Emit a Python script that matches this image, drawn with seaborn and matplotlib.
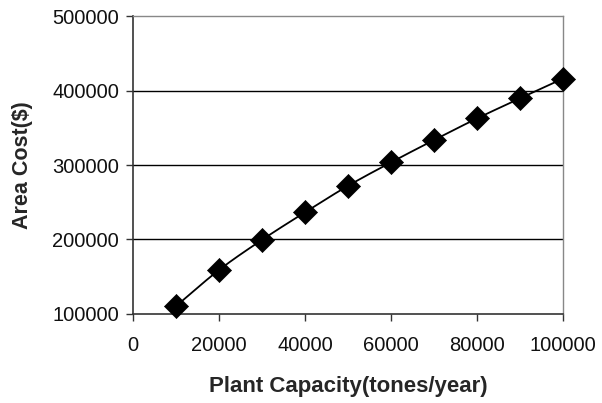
import numpy as np
import pandas as pd
import matplotlib
matplotlib.use("Agg")
import matplotlib.pyplot as plt
import seaborn as sns

# Plant capacity (tones/year) and corresponding area cost ($)
capacity = [10000, 20000, 30000, 40000, 50000, 60000, 70000, 80000, 90000, 100000]
area_cost = [110500, 159000, 199500, 236500, 272000, 303500, 333500, 362500, 389500, 416000]

x_ticks = [0, 20000, 40000, 60000, 80000, 100000]
y_ticks = [100000, 200000, 300000, 400000, 500000]

df = pd.DataFrame({"capacity": capacity, "cost": area_cost})

sns.set_theme(style="white")
plt.rcParams["font.family"] = ["Liberation Sans", "DejaVu Sans"]


def smooth_curve(xs, ys, steps=20):
    """Catmull-Rom spline through the data points (smoothed line)."""
    xs = np.asarray(xs, float)
    ys = np.asarray(ys, float)
    px = np.concatenate([[2 * xs[0] - xs[1]], xs, [2 * xs[-1] - xs[-2]]])
    py = np.concatenate([[2 * ys[0] - ys[1]], ys, [2 * ys[-1] - ys[-2]]])
    out_x, out_y = [], []
    t = np.linspace(0, 1, steps, endpoint=False)
    for i in range(1, len(px) - 2):
        for p, o in ((px, out_x), (py, out_y)):
            p0, p1, p2, p3 = p[i - 1], p[i], p[i + 1], p[i + 2]
            o.extend(0.5 * ((2 * p1) + (-p0 + p2) * t
                            + (2 * p0 - 5 * p1 + 4 * p2 - p3) * t ** 2
                            + (-p0 + 3 * p1 - 3 * p2 + p3) * t ** 3))
    out_x.append(xs[-1])
    out_y.append(ys[-1])
    return np.array(out_x), np.array(out_y)


fig = plt.figure(figsize=(6.02, 4.03), dpi=100)
ax = fig.add_axes([0.221, 0.221, 0.714, 0.739])

sx, sy = smooth_curve(df["capacity"], df["cost"])
sns.lineplot(x=sx, y=sy, ax=ax, color="black", linewidth=1.3, sort=False, zorder=3)
sns.scatterplot(data=df, x="capacity", y="cost", ax=ax, marker="D", s=150,
                color="black", edgecolor="black", linewidth=0.5, zorder=4)
for coll in ax.collections:
    coll.set_clip_on(False)

ax.set_xlim(0, 100000)
ax.set_ylim(100000, 500000)
ax.set_xticks(x_ticks)
ax.set_yticks(y_ticks)
ax.set_xticklabels([str(v) for v in x_ticks], fontsize=14.5)
ax.set_yticklabels([str(v) for v in y_ticks], fontsize=14.5)

for v in y_ticks[1:-1]:
    ax.axhline(v, color="black", linewidth=1.0, zorder=1)

ax.tick_params(axis="both", which="both", direction="out", length=5, width=1,
               color="#333333", bottom=True, left=True, labelcolor="#111111")
ax.tick_params(axis="x", pad=11)
ax.tick_params(axis="y", pad=5)

for side in ("left", "bottom"):
    ax.spines[side].set_color("#333333")
    ax.spines[side].set_linewidth(1.2)
for side in ("top", "right"):
    ax.spines[side].set_visible(True)
    ax.spines[side].set_color("#888888")
    ax.spines[side].set_linewidth(1.0)

ax.set_xlabel("Plant Capacity(tones/year)", fontsize=16, fontweight="bold", labelpad=15)
ax.set_ylabel("Area Cost($)", fontsize=15.5, fontweight="bold", labelpad=14)

fig.savefig("out.png", dpi=100)
